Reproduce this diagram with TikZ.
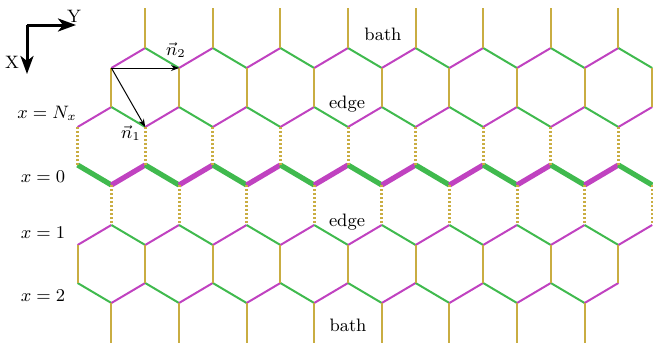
\documentclass[tikz,border=0pt]{standalone}
\usetikzlibrary{arrows.meta}
\definecolor{hgreen}{RGB}{64,186,78}
\definecolor{hmag}{RGB}{192,66,192}
\definecolor{hgold}{RGB}{201,173,66}
\tikzset{
  gbond/.style={hgreen,line width=1pt},
  mbond/.style={hmag,line width=1pt},
  vbond/.style={hgold,line width=1pt},
  dbond/.style={hgold,line width=1.5pt,dash pattern=on 1pt off 1pt},
  thickg/.style={hgreen,line width=2.6pt},
  thickm/.style={hmag,line width=2.6pt},
  lbl/.style={font=\fontsize{9}{11}\selectfont,inner sep=0pt},
  vec/.style={black,line width=0.5pt,-{Stealth[length=4pt,width=3pt]}},
  axis/.style={black,line width=1.5pt,-{Stealth[length=9pt,width=6.5pt,inset=2.5pt]}}
}
\newcommand{\XX}[1]{77.6+33.8*#1}
\begin{document}
\begin{tikzpicture}[x=0.5pt,y=-0.5pt]
\useasboundingbox (0,0) rectangle (653,343);
% Z1 (i=1..17)
\foreach \i in {1,...,16}{
  \pgfmathtruncatemacro{\j}{\i+1}
  \pgfmathsetmacro{\ya}{isodd(\i)?68:48}
  \pgfmathsetmacro{\yb}{isodd(\i)?48:68}
  \pgfmathtruncatemacro{\up}{isodd(\i)}
  \ifnum\up=1 \draw[mbond] ({\XX{\i}},\ya) -- ({\XX{\j}},\yb);
  \else \draw[gbond] ({\XX{\i}},\ya) -- ({\XX{\j}},\yb); \fi
}
% Z2 (i=0..17): even 127, odd 107
\foreach \i in {0,...,16}{
  \pgfmathtruncatemacro{\j}{\i+1}
  \pgfmathsetmacro{\ya}{isodd(\i)?107:127}
  \pgfmathsetmacro{\yb}{isodd(\i)?127:107}
  \pgfmathtruncatemacro{\up}{isodd(\i)}
  \ifnum\up=0 \draw[mbond] ({\XX{\i}},\ya) -- ({\XX{\j}},\yb);
  \else \draw[gbond] ({\XX{\i}},\ya) -- ({\XX{\j}},\yb); \fi
}
% Z3 thick (i=0..17): even 165, odd 185
\foreach \i in {0,...,16}{
  \pgfmathtruncatemacro{\j}{\i+1}
  \pgfmathsetmacro{\ya}{isodd(\i)?185:165}
  \pgfmathsetmacro{\yb}{isodd(\i)?165:185}
  \pgfmathtruncatemacro{\up}{isodd(\i)}
  \ifnum\up=1 \draw[thickm] ({\XX{\i}},\ya) -- ({\XX{\j}},\yb);
  \else \draw[thickg] ({\XX{\i}},\ya) -- ({\XX{\j}},\yb); \fi
}
% Z4 (i=0..17): even 245, odd 225
\foreach \i in {0,...,16}{
  \pgfmathtruncatemacro{\j}{\i+1}
  \pgfmathsetmacro{\ya}{isodd(\i)?225:245}
  \pgfmathsetmacro{\yb}{isodd(\i)?245:225}
  \pgfmathtruncatemacro{\up}{isodd(\i)}
  \ifnum\up=0 \draw[mbond] ({\XX{\i}},\ya) -- ({\XX{\j}},\yb);
  \else \draw[gbond] ({\XX{\i}},\ya) -- ({\XX{\j}},\yb); \fi
}
% Z5 (i=0..16): even 283, odd 303
\foreach \i in {0,...,15}{
  \pgfmathtruncatemacro{\j}{\i+1}
  \pgfmathsetmacro{\ya}{isodd(\i)?303:283}
  \pgfmathsetmacro{\yb}{isodd(\i)?283:303}
  \pgfmathtruncatemacro{\up}{isodd(\i)}
  \ifnum\up=1 \draw[mbond] ({\XX{\i}},\ya) -- ({\XX{\j}},\yb);
  \else \draw[gbond] ({\XX{\i}},\ya) -- ({\XX{\j}},\yb); \fi
}
% vertical bonds
\foreach \i in {2,4,...,16} \draw[vbond] ({\XX{\i}},8) -- ({\XX{\i}},48);
\foreach \i in {1,3,...,17} \draw[vbond] ({\XX{\i}},68) -- ({\XX{\i}},107);
\foreach \i in {0,2,...,16} \draw[dbond] ({\XX{\i}},127) -- ({\XX{\i}},165);
\foreach \i in {1,3,...,17} \draw[dbond] ({\XX{\i}},185) -- ({\XX{\i}},225);
\foreach \i in {0,2,...,16} \draw[vbond] ({\XX{\i}},245) -- ({\XX{\i}},283);
\foreach \i in {1,3,...,15} \draw[vbond] ({\XX{\i}},303) -- ({\XX{\i}},343);
% lattice vectors
\coordinate (o) at (111.4,68);
\coordinate (e2) at (179,68);
\coordinate (e1) at (145.2,127);
\draw[vec] (o) -- (e2);
\draw[vec] (o) -- (e1);
\node[lbl] (n2) at (176,50) {$\vec{n}_2$};
\node[lbl] (n1) at (131,133) {$\vec{n}_1$};
% axes
\coordinate (ax) at (27,25);
\coordinate (ay) at (76,25);
\coordinate (axx) at (27,74);
\draw[axis] (ax) -- (ay);
\draw[axis] (ax) -- (axx);
\node[lbl] (Y) at (74,16) {Y};
\node[lbl] (X) at (12,62) {X};
% labels
\node[lbl] (lN) at (47,113) {$x=N_x$};
\node[lbl] (l0) at (43,177) {$x=0$};
\node[lbl] (l1) at (43,233) {$x=1$};
\node[lbl] (l2) at (43,296) {$x=2$};
\node[lbl] (b1) at (383,34) {bath};
\node[lbl] (b2) at (348,325) {bath};
\node[lbl] (ed1) at (347,104) {edge};
\node[lbl] (ed2) at (347,222) {edge};
\end{tikzpicture}
\end{document}
